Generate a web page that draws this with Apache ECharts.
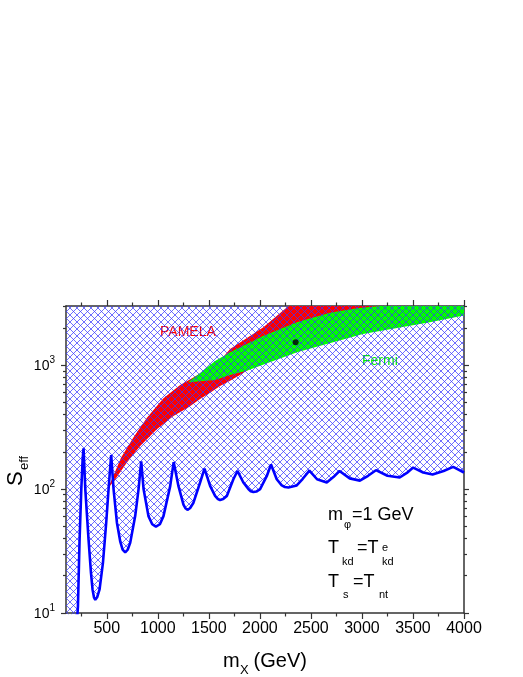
<!DOCTYPE html>
<html>
<head>
<meta charset="utf-8">
<script src="https://cdn.jsdelivr.net/npm/echarts@6/dist/echarts.min.js"></script>
<style>
  html, body { margin: 0; padding: 0; background: #fff; }
  #chart { width: 523px; height: 677px; }
</style>
</head>
<body>
<div id="chart"></div>
<script>
// blue boundary curve (m_X in GeV, S_eff)
var blueX = [100, 150, 205, 217, 233, 250, 263, 272, 289, 321, 345, 360, 375, 387, 405, 429, 462, 494, 517, 534, 543,
    566, 599, 631, 655, 680, 705, 729, 778, 811, 837, 860, 908, 945, 981, 1020, 1055, 1121, 1155,
    1202, 1251, 1270, 1290, 1315, 1349, 1414, 1457, 1512, 1561, 1585, 1610, 1640, 1676, 1740, 1780,
    1838, 1887, 1910, 1936, 1965, 2002, 2067, 2109,
    2165, 2214, 2245, 2279, 2361, 2420, 2485, 2560, 2655, 2720, 2780, 2880, 2980, 3060, 3137, 3250, 3370, 3440, 3502,
    3600, 3692, 3800, 3894, 4000];
var blueY = [1.5, 3, 8, 11.3, 39, 100, 174, 213, 100, 39, 21, 15.5, 13.3, 12.8, 13.4, 15.5, 25.4, 53.5, 100, 153, 188,
    100, 53.5, 37.9, 32.5, 30.9, 32.5, 36.8, 60.5, 100, 167, 100, 60.5, 52, 49.7, 52, 60.5, 105.6, 165,
    105.6, 75, 70, 68, 70, 77.6, 113, 146, 106, 88, 83.5, 81.5, 83, 88, 120, 140,
    113, 100, 96, 94.6, 95.5, 100, 127, 158,
    120, 107, 104, 103, 107, 121, 141, 120, 113, 125, 140, 122, 117, 128, 142, 128, 124, 135, 149,
    136, 131, 140, 151, 136];

// PAMELA region outline
var pamelaX = [511, 580, 640, 762, 893, 1055, 1219, 1382, 1512, 1610, 1708, 2034, 2280, 3250,
    3000, 2400, 1950, 1800, 1708, 1610, 1512, 1414, 1297, 1153, 990, 827, 697, 583];
var pamelaY = [101, 137, 180, 262, 376, 540, 690, 825, 959, 1086, 1349, 2024, 3000, 3000,
    2300, 1600, 990, 830, 748, 680, 600, 532, 456, 389, 304, 223, 164, 120];

// Fermi region outline
var fermiX = [1297, 1414, 1561, 1708, 2031, 2364, 2687, 2950, 3180, 4000, 4000, 3666, 3010, 2364, 1871, 1708, 1561];
var fermiY = [726, 863, 1079, 1270, 1718, 2218, 2650, 2880, 3000, 3000, 2510, 2218, 1786, 1270, 902, 832, 757];

// best fit point
var dotX = [2350];
var dotY = [1530];

var xMajor = [500, 1000, 1500, 2000, 2500, 3000, 3500, 4000];
var xMinor = [250, 750, 1250, 1750, 2250, 2750, 3250, 3750];
var yMajor = [10, 100, 1000];
var yMinor = [20, 30, 40, 50, 60, 70, 80, 90, 200, 300, 400, 500, 600, 700, 800, 900, 2000, 3000];

var FONT = 'Arial, "Liberation Sans", sans-serif';
var axisColor = '#333';

function makeHatch() {
    var c = document.createElement('canvas');
    c.width = 7;
    c.height = 7;
    var g = c.getContext('2d');
    g.strokeStyle = 'rgba(55,55,255,0.72)';
    g.lineWidth = 1;
    g.beginPath();
    g.moveTo(-1, -1); g.lineTo(8, 8);
    g.moveTo(-1, 8); g.lineTo(8, -1);
    g.stroke();
    return c;
}

function zip(xs, ys) {
    var out = [];
    for (var i = 0; i < xs.length; i++) {
        out.push([xs[i], ys[i]]);
    }
    return out;
}

function polygonSeries(xs, ys, color, z) {
    return {
        type: 'custom',
        coordinateSystem: 'cartesian2d',
        silent: true,
        z: z,
        data: [[xs[0], ys[0]]],
        renderItem: function (params, api) {
            var pts = [];
            for (var i = 0; i < xs.length; i++) {
                pts.push(api.coord([xs[i], ys[i]]));
            }
            return { type: 'polygon', shape: { points: pts }, style: { fill: color } };
        }
    };
}

function xAxisDef(pos, ticks, len, withLine, withLabel) {
    return {
        type: 'value', position: pos, min: 100, max: 4000,
        axisLine: { show: withLine, lineStyle: { color: axisColor, width: 1.5 } },
        axisTick: { show: true, length: len, customValues: ticks, lineStyle: { color: axisColor, width: 1.2 } },
        axisLabel: withLabel ? {
            show: true, customValues: ticks, fontSize: 16, color: '#000', fontFamily: FONT, margin: 8,
            formatter: function (v) { return String(v); }
        } : { show: false },
        splitLine: { show: false }
    };
}

function yAxisDef(pos, ticks, len, withLine, withLabel) {
    return {
        type: 'log', logBase: 10, position: pos, min: 10, max: 3000,
        axisLine: { show: withLine, lineStyle: { color: axisColor, width: 1.5 } },
        axisTick: { show: true, length: len, customValues: ticks, lineStyle: { color: axisColor, width: 1.2 } },
        axisLabel: withLabel ? {
            show: true, customValues: ticks, margin: 11,
            formatter: function (v) {
                return '{b|10}{s|' + Math.round(Math.log10(v)) + '}';
            },
            rich: {
                b: { fontSize: 14, fontFamily: FONT, color: '#000', verticalAlign: 'bottom', lineHeight: 16 },
                s: { fontSize: 10, fontFamily: FONT, color: '#000', verticalAlign: 'bottom', lineHeight: 10, padding: [0, 0, 8, 0] }
            }
        } : { show: false },
        splitLine: { show: false },
        minorTick: { show: false }
    };
}

function txt(s, x, y, size, color) {
    return {
        type: 'text', x: x, y: y, silent: true,
        style: { text: s, fontSize: size, fontFamily: FONT, fill: color || '#000', align: 'left', verticalAlign: 'bottom' }
    };
}

var chart = echarts.init(document.getElementById('chart'), null, { renderer: 'canvas' });

var option = {
    animation: false,
    backgroundColor: '#fff',
    grid: { left: 66, right: 59, top: 306, bottom: 64 },
    xAxis: [
        xAxisDef('bottom', xMajor, 6, true, true),
        xAxisDef('bottom', xMinor, 3.5, false, false),
        xAxisDef('top', xMajor, 6, true, false),
        xAxisDef('top', xMinor, 3.5, false, false)
    ],
    yAxis: [
        yAxisDef('left', yMajor, 5, true, true),
        yAxisDef('left', yMinor, 3, false, false),
        yAxisDef('right', yMajor, 5, true, false),
        yAxisDef('right', yMinor, 3, false, false)
    ],
    series: [
        polygonSeries(pamelaX, pamelaY, '#ff0000', 1),
        polygonSeries(fermiX, fermiY, '#00ff00', 2),
        {
            type: 'line',
            z: 3,
            data: zip(blueX, blueY),
            showSymbol: false,
            smooth: false,
            lineStyle: { color: '#0000ff', width: 2.6 },
            areaStyle: { origin: 'end', opacity: 1, color: { image: makeHatch(), repeat: 'repeat' } },
            silent: true
        },
        {
            type: 'scatter',
            z: 5,
            data: zip(dotX, dotY),
            symbolSize: 6,
            itemStyle: { color: '#000' },
            silent: true
        }
    ],
    graphic: [
        txt('PAMELA', 160, 339, 14, '#ff0000'),
        txt('Fermi', 362, 368, 14, '#00ee00'),

        txt('m', 328, 524, 18),
        txt('\u03c6', 344, 530, 11),
        txt('=1 GeV', 352, 524, 18),

        txt('T', 328, 557, 18),
        txt('kd', 342, 567, 11),
        txt('=T', 357, 557, 18),
        txt('e', 382, 553, 11),
        txt('kd', 382, 567, 11),

        txt('T', 328, 591, 18),
        txt('s', 343, 600, 11),
        txt('=T', 353, 591, 18),
        txt('nt', 379, 600, 11),

        txt('m', 223, 671, 20),
        txt('X', 240, 677, 13),
        txt(' (GeV)', 248, 671, 20),

        {
            type: 'text', x: 27, y: 486, rotation: Math.PI / 2, silent: true,
            style: { text: 'S', fontSize: 22, fontFamily: FONT, fill: '#000', align: 'left', verticalAlign: 'bottom' }
        },
        {
            type: 'text', x: 31, y: 470, rotation: Math.PI / 2, silent: true,
            style: { text: 'eff', fontSize: 13, fontFamily: FONT, fill: '#000', align: 'left', verticalAlign: 'bottom' }
        }
    ]
};

chart.setOption(option);
</script>
</body>
</html>
